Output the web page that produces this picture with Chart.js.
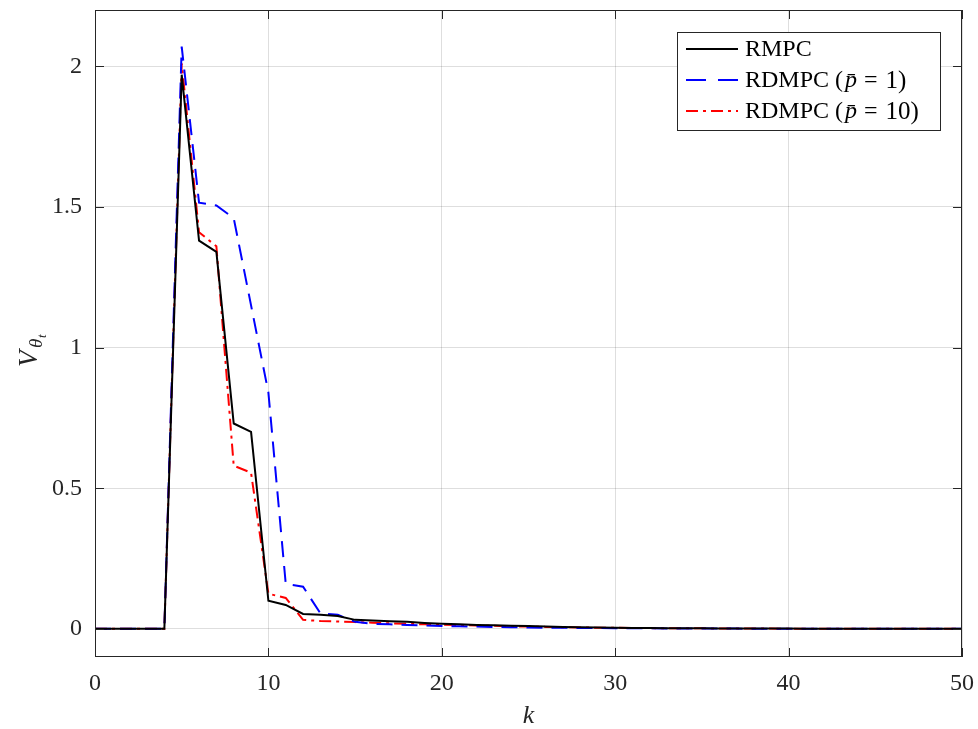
<!DOCTYPE html>
<html>
<head>
<meta charset="utf-8">
<script src="https://cdn.jsdelivr.net/npm/chart.js@4.4.0/dist/chart.umd.min.js"></script>
<style>
  html, body { margin: 0; padding: 0; background: #fff; }
  #wrap { width: 978px; height: 729px; }
</style>
</head>
<body>
<div id="wrap"><canvas id="myChart" width="978" height="729"></canvas></div>
<script>
// 데이터
const kSteps = [];
for (let i = 0; i <= 50; i++) kSteps.push(i);

const rmpc = [0, 0, 0, 0, 0, 1.97, 1.38, 1.34, 0.73, 0.70,
  0.10, 0.085, 0.053, 0.050, 0.046, 0.032, 0.030, 0.027, 0.025, 0.021,
  0.018, 0.016, 0.014, 0.013, 0.011, 0.010, 0.008, 0.007, 0.006, 0.005,
  0.004, 0.003, 0.003, 0.002, 0.002, 0.002, 0.001, 0.001, 0.001, 0.001,
  0.001, 0, 0, 0, 0, 0, 0, 0, 0, 0, 0];

const rdmpc1 = [0, 0, 0, 0, 0, 2.07, 1.515, 1.505, 1.46, 1.15,
  0.84, 0.16, 0.15, 0.055, 0.050, 0.025, 0.018, 0.016, 0.014, 0.012,
  0.010, 0.009, 0.008, 0.007, 0.006, 0.005, 0.004, 0.004, 0.003, 0.003,
  0.002, 0.002, 0.002, 0.001, 0.001, 0.001, 0.001, 0.001, 0, 0,
  0, 0, 0, 0, 0, 0, 0, 0, 0, 0, 0];

const rdmpc10 = [0, 0, 0, 0, 0, 2.01, 1.41, 1.36, 0.58, 0.555,
  0.125, 0.11, 0.032, 0.028, 0.026, 0.024, 0.022, 0.020, 0.018, 0.016,
  0.015, 0.013, 0.012, 0.011, 0.009, 0.008, 0.007, 0.006, 0.005, 0.004,
  0.004, 0.003, 0.003, 0.002, 0.002, 0.002, 0.001, 0.001, 0.001, 0.001,
  0, 0, 0, 0, 0, 0, 0, 0, 0, 0, 0];

const xTicks = [0, 10, 20, 30, 40, 50];
const yTicks = [0, 0.5, 1, 1.5, 2];

const FONT = "'Liberation Serif', 'DejaVu Serif', serif";

function pts(arr) {
  return kSteps.map((k, i) => ({ x: k, y: arr[i] }));
}

// 프레임, 안쪽 눈금, 범례, 축 제목
const decor = {
  id: 'decor',
  afterDraw(chart) {
    const ctx = chart.ctx;
    const a = chart.chartArea;
    const xs = chart.scales.x, ys = chart.scales.y;
    ctx.save();
    ctx.strokeStyle = '#262626';
    ctx.lineWidth = 1;
    ctx.strokeRect(a.left + 0.5, a.top + 0.5, a.right - a.left - 1, a.bottom - a.top - 1);
    ctx.beginPath();
    xTicks.forEach(v => {
      const px = Math.round(xs.getPixelForValue(v)) + 0.5;
      ctx.moveTo(px, a.bottom); ctx.lineTo(px, a.bottom - 9);
      ctx.moveTo(px, a.top); ctx.lineTo(px, a.top + 9);
    });
    yTicks.forEach(v => {
      const py = Math.round(ys.getPixelForValue(v)) + 0.5;
      ctx.moveTo(a.left, py); ctx.lineTo(a.left + 9, py);
      ctx.moveTo(a.right, py); ctx.lineTo(a.right - 9, py);
    });
    ctx.stroke();

    // 범례
    const lx = 677, ly = 32, lw = 263, lh = 98;
    ctx.fillStyle = '#fff';
    ctx.fillRect(lx, ly, lw, lh);
    ctx.strokeStyle = '#262626';
    ctx.strokeRect(lx + 0.5, ly + 0.5, lw, lh);
    const items = [
      { c: '#000', d: [], pre: 'RMPC', it: '', post: '' },
      { c: '#0000ff', d: [20, 12], pre: 'RDMPC (', it: 'p\u0304', post: '1)' },
      { c: '#ff0000', d: [12, 5, 3, 5], pre: 'RDMPC (', it: 'p\u0304', post: '10)' }
    ];
    items.forEach((o, i) => {
      const y = 49 + i * 31;
      ctx.strokeStyle = o.c;
      ctx.lineWidth = 2;
      ctx.setLineDash(o.d);
      ctx.beginPath();
      ctx.moveTo(686, y); ctx.lineTo(738, y);
      ctx.stroke();
      ctx.setLineDash([]);
      ctx.fillStyle = '#000';
      ctx.textBaseline = 'middle';
      ctx.textAlign = 'left';
      let tx = 745;
      ctx.font = '24px ' + FONT;
      ctx.fillText(o.pre, tx, y + 1);
      tx += ctx.measureText(o.pre).width;
      if (o.it) {
        ctx.font = 'italic 24px ' + FONT;
        ctx.fillText(o.it, tx + 2, y + 1);
        tx += ctx.measureText(o.it).width + 2 + 7;
        ctx.font = '24px ' + FONT;
        ctx.fillText('=', tx, y + 1);
        tx += ctx.measureText('=').width + 8;
        ctx.font = '25px ' + FONT;
        ctx.fillText(o.post, tx, y + 1);
      }
    });

    // x 축 제목
    ctx.fillStyle = '#262626';
    ctx.font = 'italic 26px ' + FONT;
    ctx.textAlign = 'center';
    ctx.textBaseline = 'middle';
    ctx.fillText('k', (a.left + a.right) / 2, 716);

    // y 축 제목
    ctx.translate(30, 345);
    ctx.rotate(-Math.PI / 2);
    ctx.textAlign = 'left';
    ctx.font = 'italic 27px ' + FONT;
    ctx.fillText('V', -22, 0);
    ctx.font = 'italic 19px ' + FONT;
    ctx.fillText('\u03b8', -3, 7);
    ctx.font = 'italic 13px ' + FONT;
    ctx.fillText('t', 7, 13);
    ctx.restore();
  }
};

window.addEventListener("load", function() {
  const ctx = document.getElementById('myChart').getContext('2d');

  let data = {
    datasets: [
      { label: 'RMPC', data: pts(rmpc), borderColor: '#000000', borderWidth: 2, borderDash: [] },
      { label: 'RDMPC (p=1)', data: pts(rdmpc1), borderColor: '#0000ff', borderWidth: 2, borderDash: [16, 9] },
      { label: 'RDMPC (p=10)', data: pts(rdmpc10), borderColor: '#ff0000', borderWidth: 2, borderDash: [12, 5, 3, 5] }
    ]
  };

  let options = {
    responsive: false,
    animation: false,
    layout: { padding: { left: 0, right: 16, top: 10, bottom: 0 } },
    elements: { point: { radius: 0 }, line: { tension: 0, fill: false } },
    plugins: { legend: { display: false }, tooltip: { enabled: false } },
    scales: {
      x: {
        type: 'linear', min: 0, max: 50,
        afterBuildTicks: s => { s.ticks = xTicks.map(v => ({ value: v })); },
        afterFit: s => { s.height = 72; s.paddingLeft = 0; s.paddingRight = 0; },
        grid: { color: 'rgba(0,0,0,0.13)', drawTicks: false },
        border: { display: false },
        ticks: { padding: 12, color: '#262626', font: { family: FONT, size: 24 }, callback: v => String(v) }
      },
      y: {
        type: 'linear', min: -0.1, max: 2.2,
        afterBuildTicks: s => { s.ticks = yTicks.map(v => ({ value: v })); },
        afterFit: s => { s.width = 95; s.paddingTop = 0; s.paddingBottom = 0; },
        grid: { color: 'rgba(0,0,0,0.13)', drawTicks: false },
        border: { display: false },
        ticks: { padding: 13, color: '#262626', font: { family: FONT, size: 24 }, callback: v => String(v) }
      }
    }
  };

  new Chart(ctx, { type: 'line', data: data, options: options, plugins: [decor] });
});
</script>
</body>
</html>
